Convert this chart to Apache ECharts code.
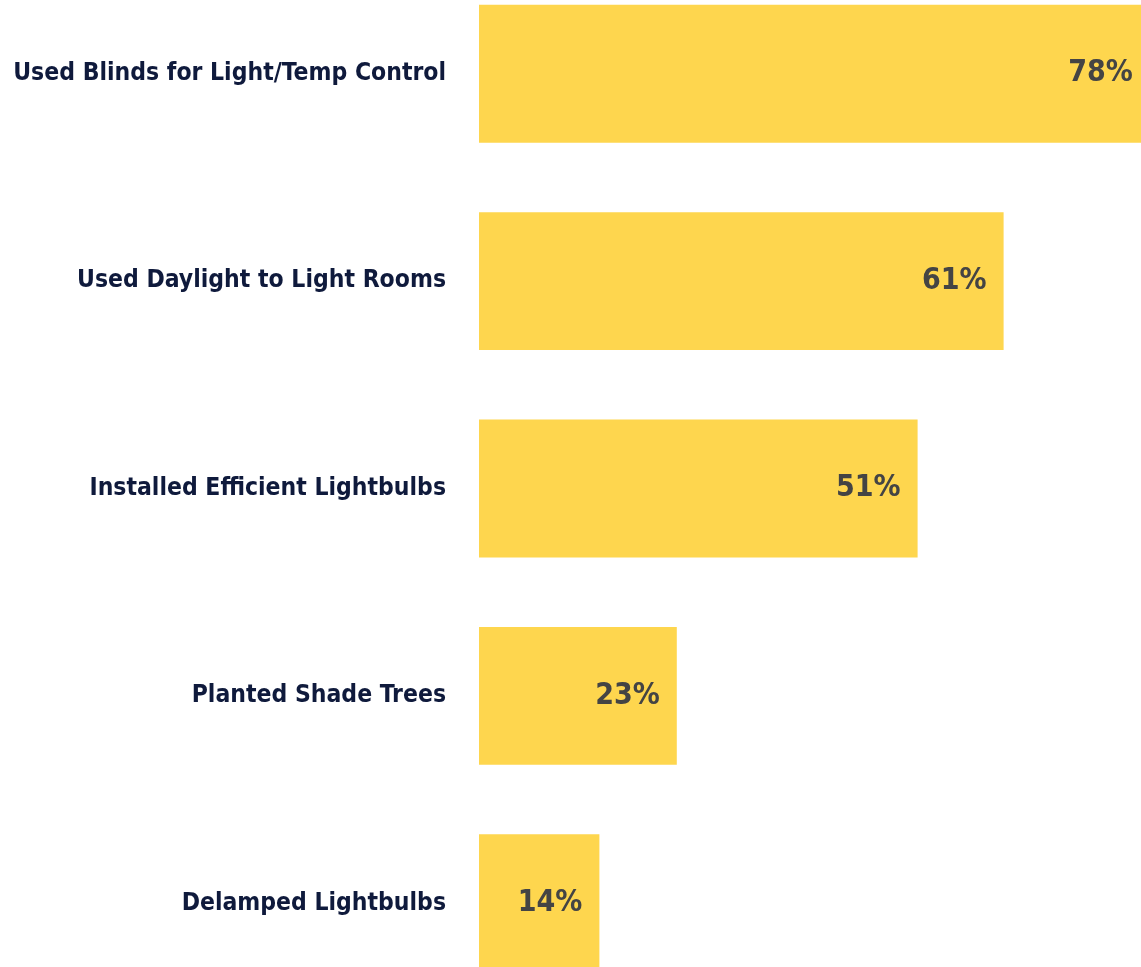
<!DOCTYPE html>
<html>
<head>
<meta charset="utf-8">
<script src="https://cdn.jsdelivr.net/npm/echarts@6/dist/echarts.min.js"></script>
<style>
  html, body { margin: 0; padding: 0; background: #fff; }
  #chart { width: 1141px; height: 967px; }
</style>
</head>
<body>
<div id="chart"></div>
<script>
// energy saving actions (share of respondents, %)
const categories = [
  'Used Blinds for Light/Temp Control',
  'Used Daylight to Light Rooms',
  'Installed Efficient Lightbulbs',
  'Planted Shade Trees',
  'Delamped Lightbulbs'
]
const values = [78, 61, 51, 23, 14]

const fontFamily = '"Liberation Sans Narrow", "DejaVu Sans Condensed", sans-serif'

const chart = echarts.init(document.getElementById('chart'))

chart.setOption({
  animation: false,
  grid: {
    left: 479,
    top: -30,
    width: 860,
    height: 1037,
    containLabel: false,
    outerBoundsMode: 'none'
  },
  xAxis: {
    type: 'value',
    min: 0,
    max: 100,
    show: false
  },
  yAxis: {
    type: 'category',
    data: categories,
    inverse: true,
    axisLine: { show: false },
    axisTick: { show: false },
    axisLabel: {
      margin: 33,
      fontSize: 24.5,
      fontWeight: 'bold',
      fontFamily: fontFamily,
      color: '#0f1a3c'
    }
  },
  series: [
    {
      type: 'bar',
      data: values,
      barCategoryGap: '33.5%',
      itemStyle: { color: '#fed64e' },
      label: {
        show: true,
        position: 'insideRight',
        distance: 17,
        formatter: '{c}%',
        fontSize: 30,
        fontWeight: 'bold',
        fontFamily: fontFamily,
        color: '#444444'
      }
    }
  ]
})

window.addEventListener('resize', () => chart.resize())
</script>
</body>
</html>
